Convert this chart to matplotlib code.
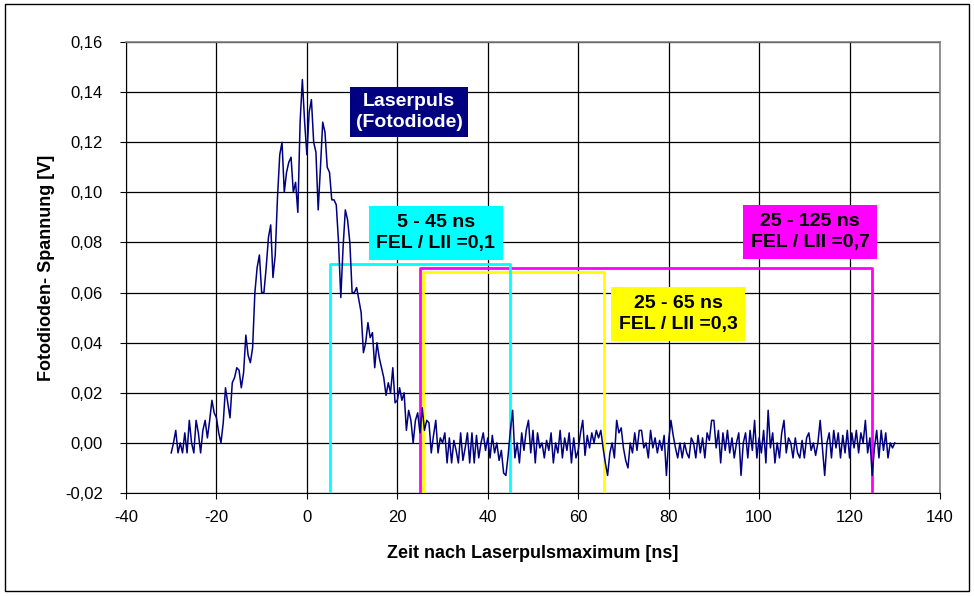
import numpy as np
import matplotlib
matplotlib.use('Agg')
import matplotlib.pyplot as plt
from matplotlib.patches import Rectangle
from matplotlib.ticker import FuncFormatter, MultipleLocator

plt.rcParams['font.family'] = ['Liberation Sans', 'DejaVu Sans']
plt.rcParams['axes.unicode_minus'] = False

# Fotodiodensignal: Abtastung alle 0,5 ns ab -30 ns, Werte in mV
t_start = -30.0
dt = 0.5
u_mV = [
    -4, 0, 5, -4, 0, -4, 4, -4, 9, 0, -4, 9, 4, -4, 5, 9, 2, 9, 17, 12,
    10, 4, 0, 8, 22, 16, 10, 24, 26, 30, 29, 22, 28, 43, 35, 32, 38, 60, 70, 75,
    60, 60, 70, 82, 87, 66, 75, 98, 115, 120, 100, 108, 112, 114, 100, 104, 92, 128, 145, 128,
    115, 132, 137, 120, 116, 93, 110, 128, 124, 110, 108, 97, 97, 95, 80, 58, 78, 93, 89, 80,
    60, 60, 62, 57, 52, 36, 40, 48, 42, 44, 30, 40, 34, 30, 26, 19, 24, 20, 30, 16,
    17, 22, 17, 20, 5, 13, 9, 0, 9, 12, 4, 14, 5, 9, 8, -4, 3, 9, -4, 2,
    0, 4, -8, 2, -8, 1, -3, -8, 4, -7, -2, 4, -8, 4, -8, 3, -6, 0, 4, -3,
    2, -6, 3, -4, 0, -7, -3, -12, -13, -5, 5, 13, -6, 0, -8, 4, -3, 5, 9, -4,
    5, -8, 4, -2, 0, -6, 1, -3, 4, -8, 0, -4, 5, -6, 2, -3, 4, -8, 2, -6,
    -3, 4, 9, -5, 3, -2, 4, 0, 5, 2, 5, -2, -8, -13, -4, 0, -6, 9, 4, 6,
    -2, -7, -10, 0, -4, 4, -3, 5, 5, -2, 0, -6, 5, -2, 2, -4, 1, -3, 3, -13,
    1, 9, 3, -2, -6, 0, -6, 0, -4, -6, 2, 0, -6, 3, -4, 2, -6, 4, 1, 9,
    9, -2, 5, -8, 4, -3, 5, -4, 2, -6, 0, 4, -13, 0, 4, -6, 5, -3, 9, -6,
    2, -4, 5, -8, 13, -2, 4, -8, 0, -6, 4, 9, -4, 2, 0, -6, 2, -4, -6, 1,
    -6, 2, 4, -3, 0, -5, 0, 9, -2, -13, 0, 4, -6, 5, -2, 4, -6, 3, -4, 5,
    -6, 4, -2, 5, -4, 4, 0, 9, -4, 2, -13, -2, 5, -6, 5, -3, 4, -6, 0, -2,
    0,
]

# Messfenster (Reihenfolge = Zeichenreihenfolge)
gate_names = ['25 - 125 ns\nFEL / LII =0,7', '25 - 65 ns\nFEL / LII =0,3', '5 - 45 ns\nFEL / LII =0,1']
gate_start = [25.0, 25.7, 5.0]
gate_end = [125.0, 65.7, 45.0]
gate_top = [0.0700, 0.0683, 0.0715]
gate_color = ['#FF00FF', '#FFFF00', '#00FFFF']
label_x = [111.3, 82.1, 28.5]
label_y = [0.0842, 0.0515, 0.0838]

t = t_start + dt * np.arange(len(u_mV))
u = np.array(u_mV) / 1000.0

fig = plt.figure(figsize=(9.74, 5.96), dpi=100)
ax = fig.add_axes([126/974, 1 - 493/596, 814/974, 451/596])

y_min = -0.02
for x1, x2, top, col in zip(gate_start, gate_end, gate_top, gate_color):
    ax.plot([x1, x1, x2, x2], [y_min, top, top, y_min], color=col, lw=2, zorder=3)

ax.plot(t, u, color='#000080', lw=1.1, zorder=4)

for name, x, y, col in zip(gate_names, label_x, label_y, gate_color):
    ax.text(x, y, name, ha='center', va='center', fontsize=14, fontweight='bold',
            linespacing=1.35, zorder=5,
            bbox=dict(boxstyle='square,pad=0.4', fc=col, ec='none'))

ax.text(22.6, 0.132, 'Laserpuls\n(Fotodiode)', ha='center', va='center', color='white',
        fontsize=14, fontweight='bold', linespacing=1.35, zorder=5,
        bbox=dict(boxstyle='square,pad=0.3', fc='#000080', ec='none'))

ax.set_xlim(-40, 140)
ax.set_ylim(-0.02, 0.16)
ax.xaxis.set_major_locator(MultipleLocator(20))
ax.yaxis.set_major_locator(MultipleLocator(0.02))
ax.xaxis.set_major_formatter(FuncFormatter(lambda v, p: '%d' % round(v)))
ax.yaxis.set_major_formatter(FuncFormatter(lambda v, p: ('%.2f' % v).replace('.', ',')))
ax.grid(True, color='black', lw=0.9)
ax.set_axisbelow(True)
ax.tick_params(direction='out', length=4.5, width=0.8, labelsize=12)
ax.tick_params(axis='y', pad=12)
ax.tick_params(axis='x', pad=8)

for s in ['top', 'right']:
    ax.spines[s].set_color('#808080')
    ax.spines[s].set_linewidth(1.2)
for s in ['left', 'bottom']:
    ax.spines[s].set_color('black')
    ax.spines[s].set_linewidth(0.8)

ax.set_xlabel('Zeit nach Laserpulsmaximum [ns]', fontsize=13, fontweight='bold')
ax.set_ylabel('Fotodioden- Spannung [V]', fontsize=13, fontweight='bold')
ax.xaxis.set_label_coords(0.5, -0.115)
ax.yaxis.set_label_coords(-0.0875, 0.5)

# Rahmen um das ganze Diagramm
fig.patches.append(Rectangle((5/974, 5/596), 964/974, 587/596, transform=fig.transFigure,
                             fill=False, ec='black', lw=1))

fig.savefig('out.png', dpi=100)
